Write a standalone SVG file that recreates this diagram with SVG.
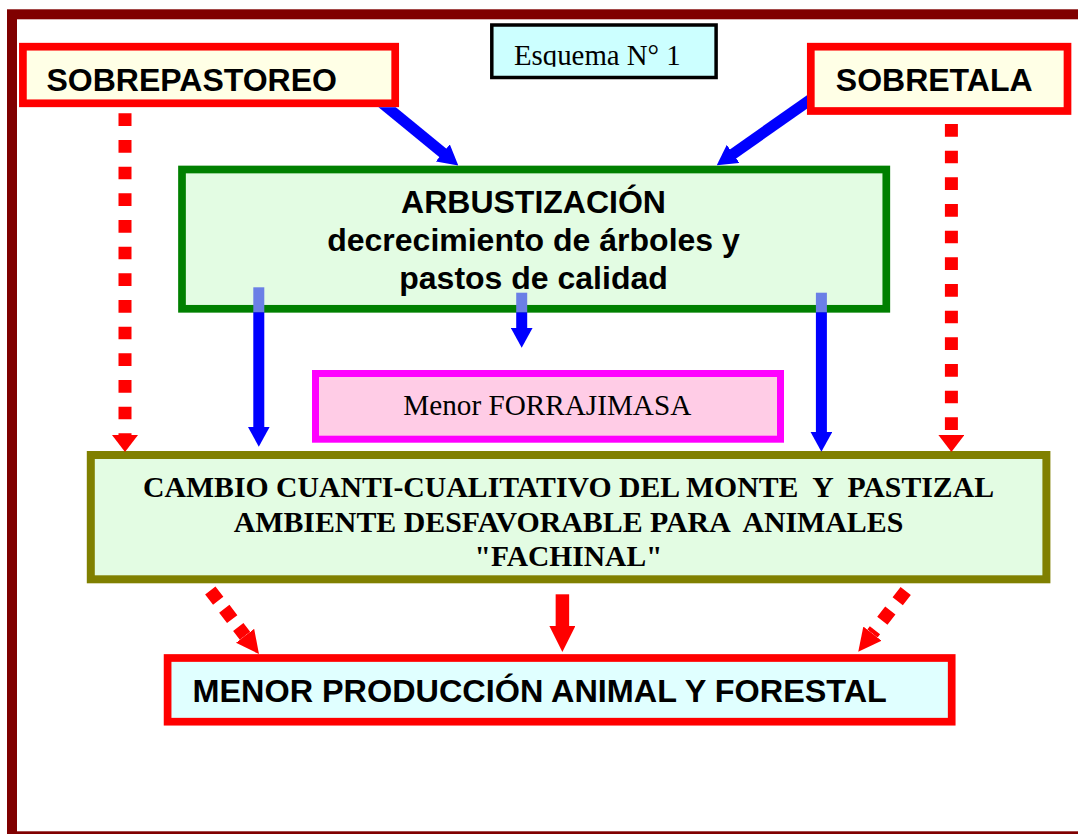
<svg xmlns="http://www.w3.org/2000/svg" width="1078" height="834" viewBox="0 0 1078 834">
<style>
.frame{fill:#fff;stroke:#800000;stroke-width:10}
.redbox{stroke:#ff0000;stroke-width:7.7}
.sans{font-family:"Liberation Sans",Arial,sans-serif;font-weight:bold;font-size:32px;fill:#000}
.serif{font-family:"Liberation Serif","Times New Roman",serif;fill:#000}
.bold{font-weight:bold}
.pre{white-space:pre}
.blue{stroke:#0000ff;stroke-width:11;fill:none}
.lightblue{stroke:#6b7fe6;stroke-width:11;fill:none}
.reddot{stroke:#ff0000;stroke-width:13;fill:none;stroke-dasharray:12.67 14}
.reddiag{stroke:#ff0000;stroke-width:13;fill:none}
.redsolid{stroke:#ff0000;stroke-width:13.5;fill:none}
</style>
<defs>
<marker id="blueHead" markerUnits="userSpaceOnUse" viewBox="0 0 20 22" markerWidth="20" markerHeight="22" refX="1" refY="11" orient="auto">
<path d="M0,0 L20,11 L0,22 Z" fill="#0000ff"/>
</marker>
<marker id="redTri" markerUnits="userSpaceOnUse" viewBox="0 0 17 26" markerWidth="17" markerHeight="26" refX="0" refY="13" orient="auto">
<path d="M0,0 L17,13 L0,26 Z" fill="#ff0000"/>
</marker>
<marker id="redLong" markerUnits="userSpaceOnUse" viewBox="0 0 26 26" markerWidth="26" markerHeight="26" refX="0" refY="13" orient="auto">
<path d="M0,0 L26,13 L0,26 Z" fill="#ff0000"/>
</marker>
<marker id="redDiag" markerUnits="userSpaceOnUse" viewBox="0 0 23 23" markerWidth="23" markerHeight="23" refX="0" refY="11.5" orient="auto">
<path d="M0,0 L23,11.5 L0,23 Z" fill="#ff0000"/>
</marker>
<clipPath id="clipEsq"><rect x="488" y="20" width="232" height="46.7"/></clipPath>
<clipPath id="clipLeft"><rect x="0" y="107.3" width="1078" height="700"/></clipPath>
<clipPath id="clipRight"><rect x="0" y="0" width="807" height="834"/></clipPath>
</defs>

<rect class="frame" x="12" y="14.3" width="1080" height="822"/>

<g id="esquema">
<rect x="491.8" y="25" width="224.3" height="52.5" fill="#ccffff" stroke="#000" stroke-width="3.5"/>
<text class="serif" x="514" y="65" font-size="28.5" textLength="166.7" lengthAdjust="spacingAndGlyphs" clip-path="url(#clipEsq)">Esquema N° 1</text>
</g>

<g id="sobrepastoreo">
<rect class="redbox" x="22.9" y="46.7" width="372.3" height="56.6" fill="#ffffe6"/>
<text class="sans" x="46.5" y="90.7" font-size="31.7">SOBREPASTOREO</text>
</g>

<g id="sobretala">
<rect class="redbox" x="810.8" y="46.7" width="256.7" height="64.3" fill="#ffffe6"/>
<text class="sans" x="835.8" y="90.7" font-size="31.5">SOBRETALA</text>
</g>

<g id="arbustizacion">
<rect x="182" y="169.5" width="704.3" height="139.3" fill="#e3fce3" stroke="#008000" stroke-width="7.7"/>
<text class="sans" x="533.5" y="213.3" text-anchor="middle">ARBUSTIZACIÓN</text>
<text class="sans" x="533.5" y="250.7" text-anchor="middle">decrecimiento de árboles y</text>
<text class="sans" x="533.5" y="288.7" text-anchor="middle">pastos de calidad</text>
</g>

<g id="forrajimasa">
<rect x="315.5" y="373.5" width="465" height="65.7" fill="#ffcce6" stroke="#ff00ff" stroke-width="7"/>
<text class="serif" x="547.3" y="415" font-size="29" text-anchor="middle" textLength="288" lengthAdjust="spacingAndGlyphs">Menor FORRAJIMASA</text>
</g>

<g id="cambio">
<rect x="90.8" y="455" width="955.6" height="124.3" fill="#e3fce3" stroke="#808000" stroke-width="8"/>
<text class="serif bold pre" x="568.5" y="497" font-size="29.6" text-anchor="middle" textLength="851" lengthAdjust="spacingAndGlyphs" xml:space="preserve">CAMBIO CUANTI-CUALITATIVO DEL MONTE  Y  PASTIZAL</text>
<text class="serif bold pre" x="568.5" y="531.5" font-size="29.6" text-anchor="middle" textLength="669.6" lengthAdjust="spacingAndGlyphs" xml:space="preserve">AMBIENTE DESFAVORABLE PARA  ANIMALES</text>
<text class="serif bold" x="568.5" y="565.5" font-size="29.6" text-anchor="middle" textLength="188" lengthAdjust="spacingAndGlyphs">"FACHINAL"</text>
</g>

<g id="menor-produccion">
<rect class="redbox" x="167.6" y="658" width="784.1" height="63.7" fill="#e0ffff"/>
<text class="sans" x="192.5" y="701.7" textLength="694.4" lengthAdjust="spacingAndGlyphs">MENOR PRODUCCIÓN ANIMAL Y FORESTAL</text>
</g>

<g id="connectors">
<line class="blue" x1="382" y1="103" x2="443.6" y2="153.5" marker-end="url(#blueHead)" clip-path="url(#clipLeft)"/>
<line class="blue" x1="812" y1="98.5" x2="732.3" y2="154.4" marker-end="url(#blueHead)" clip-path="url(#clipRight)"/>

<line class="reddot" x1="125" y1="113.3" x2="125" y2="435" marker-end="url(#redTri)"/>
<line class="reddot" x1="951.4" y1="124" x2="951.4" y2="435" marker-end="url(#redTri)"/>

<line class="lightblue" x1="258.8" y1="287.3" x2="258.8" y2="312.3"/>
<line class="blue" x1="258.8" y1="312.3" x2="258.8" y2="427.7" marker-end="url(#blueHead)"/>
<line class="lightblue" x1="521.7" y1="292.7" x2="521.7" y2="312.3"/>
<line class="blue" x1="521.7" y1="312.3" x2="521.7" y2="328.7" marker-end="url(#blueHead)"/>
<line class="lightblue" x1="821.4" y1="292.7" x2="821.4" y2="312.3"/>
<line class="blue" x1="821.4" y1="312.3" x2="821.4" y2="432.7" marker-end="url(#blueHead)"/>

<line class="reddiag" x1="210.3" y1="590.5" x2="245" y2="635.8" stroke-dasharray="13 10" marker-end="url(#redDiag)"/>
<line class="redsolid" x1="562.4" y1="594.3" x2="562.4" y2="626" marker-end="url(#redLong)"/>
<line class="reddiag" x1="905.7" y1="590.9" x2="872.4" y2="633.6" stroke-dasharray="13 12" marker-end="url(#redDiag)"/>
</g>
</svg>
